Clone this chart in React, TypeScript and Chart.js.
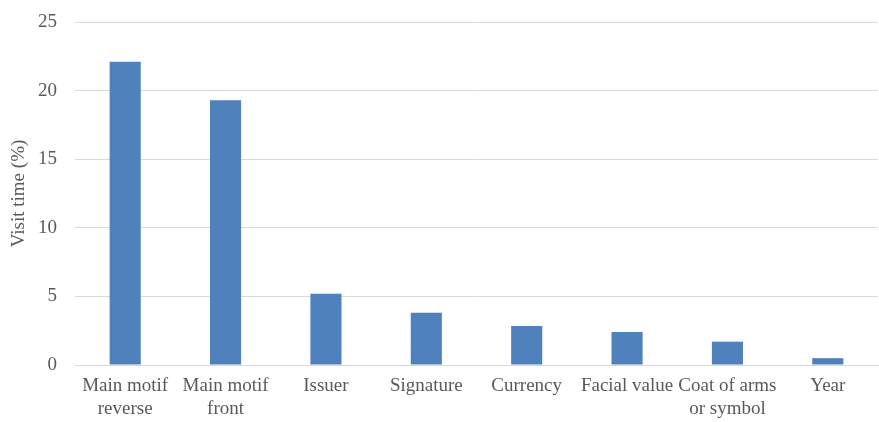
import React, { useEffect, useRef } from "react";
import { Chart, registerables } from "chart.js";

Chart.register(...registerables);

const categories: string[][] = [
  ["Main motif", "reverse"],
  ["Main motif", "front"],
  ["Issuer"],
  ["Signature"],
  ["Currency"],
  ["Facial value"],
  ["Coat of arms", "or symbol"],
  ["Year"],
];
const visitTime: number[] = [22.1, 19.3, 5.2, 3.8, 2.85, 2.4, 1.7, 0.5];
const yTicks: number[] = [0, 5, 10, 15, 20, 25];

const FONT = "'Liberation Serif', 'Times New Roman', serif";

export default function App() {
  const ref = useRef<HTMLCanvasElement | null>(null);
  useEffect(() => {
    if (!ref.current) return;
    const chart = new Chart(ref.current, {
      type: "bar",
      data: {
        labels: categories,
        datasets: [
          {
            data: visitTime,
            backgroundColor: "#4F81BD",
            barPercentage: 0.31,
            categoryPercentage: 1,
          },
        ],
      },
      options: {
        animation: false,
        responsive: false,
        maintainAspectRatio: false,
        layout: { padding: { top: 22, right: 1, left: 8, bottom: 0 } },
        plugins: { legend: { display: false }, tooltip: { enabled: false } },
        scales: {
          x: {
            grid: { display: false, drawTicks: false },
            border: { color: "#d9d9d9", width: 1 },
            afterFit: (axis: any) => {
              axis.height = 57;
            },
            ticks: {
              color: "#595959",
              font: { family: FONT, size: 19, lineHeight: 1.2 },
              autoSkip: false,
              maxRotation: 0,
              padding: 10,
            },
          },
          y: {
            min: 0,
            max: 25,
            afterBuildTicks: (axis: any) => {
              axis.ticks = yTicks.map((v) => ({ value: v }));
            },
            afterFit: (axis: any) => {
              axis.width = 67;
              axis.paddingTop = 0;
            },
            grid: { color: "#d9d9d9", drawTicks: false },
            border: { display: false },
            ticks: {
              color: "#595959",
              font: { family: FONT, size: 19, lineHeight: 0.5 },
              padding: 18,
            },
            title: {
              display: true,
              text: "Visit time (%)",
              color: "#595959",
              font: { family: FONT, size: 19 },
              padding: { top: 0, bottom: 0 },
            },
          },
        },
      },
    });
    return () => chart.destroy();
  }, []);
  return (
    <div style={{ position: "fixed", left: 0, top: 0, width: 879, height: 422, background: "#fff" }}>
      <canvas ref={ref} width={879} height={422} />
    </div>
  );
}
